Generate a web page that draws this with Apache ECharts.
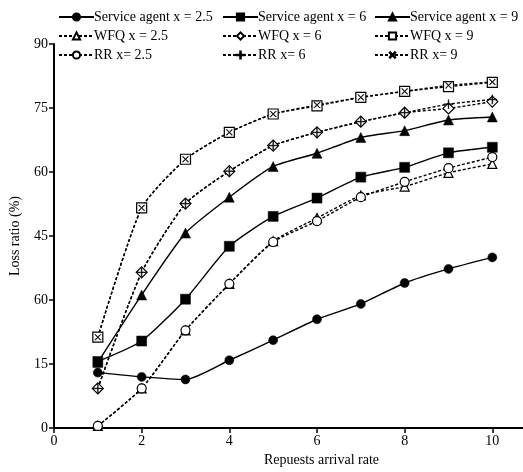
<!DOCTYPE html>
<html>
<head>
<meta charset="utf-8">
<script src="https://cdn.jsdelivr.net/npm/echarts@6/dist/echarts.min.js"></script>
<style>
html,body{margin:0;padding:0;background:#fff;}
#chart{width:523px;height:472px;}
</style>
</head>
<body>
<div id="chart"></div>
<script>
var xValues = [1, 2, 3, 4, 5, 6, 7, 8, 9, 10];
var xTickValues = [0, 2, 4, 6, 8, 10];
var yTickValues = [0, 15, 30, 45, 60, 75, 90];
var yTickLabels = ['0', '15', '60', '45', '60', '75', '90'];

var sa25 = [13.0, 12.0, 11.4, 15.9, 20.6, 25.5, 29.1, 34.0, 37.3, 40.0];
var sa6 = [15.6, 20.4, 30.2, 42.6, 49.6, 53.9, 58.8, 61.1, 64.5, 65.8];
var sa9 = [15.4, 31.2, 45.7, 54.1, 61.3, 64.4, 68.1, 69.7, 72.2, 72.9];
var wfq25 = [0.5, 9.3, 22.9, 33.8, 43.8, 49.2, 54.5, 56.6, 59.8, 61.9];
var wfq6 = [9.3, 36.5, 52.6, 60.2, 66.2, 69.3, 71.8, 73.9, 74.9, 76.5];
var wfq9 = [21.3, 51.6, 63.0, 69.3, 73.6, 75.5, 77.5, 78.9, 80.0, 81.0];
var rr25 = [0.5, 9.3, 22.9, 33.8, 43.6, 48.5, 54.1, 57.7, 60.9, 63.5];
var rr6 = [9.3, 36.5, 52.6, 60.2, 66.2, 69.3, 71.8, 73.9, 75.9, 77.0];
var rr9 = [21.3, 51.6, 63.0, 69.3, 73.6, 75.7, 77.5, 78.9, 80.3, 81.1];

var names = ['Service agent x = 2.5', 'Service agent x = 6', 'Service agent x = 9',
             'WFQ x = 2.5', 'WFQ x = 6', 'WFQ x = 9',
             'RR x= 2.5', 'RR x= 6', 'RR x= 9'];

var FONT = 'Liberation Serif';
var PLUS = 'path://M4.6,0H5.4V4.6H10V5.4H5.4V10H4.6V5.4H0V4.6H4.6Z';

function pairs(arr) { return xValues.map(function (x, i) { return [x, arr[i]]; }); }

function mk(name, data, symbol, size, filled, dashed, rotate) {
  return {
    name: name, type: 'line', data: pairs(data),
    symbol: symbol, symbolSize: size, symbolRotate: rotate || 0,
    smooth: 0.2, showSymbol: true,
    lineStyle: { color: '#000', width: 1.4, type: dashed ? [3, 2] : 'solid' },
    itemStyle: filled ? { color: '#000', borderColor: '#000', borderWidth: 0.5 }
                      : { color: '#fff', borderColor: '#000', borderWidth: 1.2 },
    emphasis: { disabled: true },
    animation: false
  };
}

var series = [
  mk(names[0], sa25, 'circle', 9, true, false),
  mk(names[1], sa6, 'rect', 10, true, false),
  mk(names[2], sa9, 'triangle', 10, true, false),
  mk(names[3], wfq25, 'triangle', 9, false, true),
  mk(names[4], wfq6, 'diamond', 11, false, true),
  mk(names[5], wfq9, 'rect', 10, false, true),
  mk(names[6], rr25, 'circle', 9, false, true),
  mk(names[7], rr6, PLUS, 9, true, true),
  mk(names[8], rr9, PLUS, 8, true, true, 45)
];

function legendCol(left, items) {
  return {
    orient: 'vertical', left: left, top: 4,
    itemWidth: 35, itemHeight: 9, itemGap: 3,
    data: items, selectedMode: false,
    textStyle: { fontFamily: FONT, fontSize: 14, color: '#000', padding: [0, 0, 0, -5], lineHeight: 16 }
  };
}

var chart = echarts.init(document.getElementById('chart'));
chart.setOption({
  backgroundColor: '#fff',
  animation: false,
  legend: [
    legendCol(53, [names[0], names[3], names[6]]),
    legendCol(217, [names[1], names[4], names[7]]),
    legendCol(369, [names[2], names[5], names[8]])
  ],
  grid: { left: 53, right: 0, top: 44, bottom: 43, containLabel: false },
  xAxis: {
    type: 'value', min: 0, max: 10.7, interval: 2,
    name: 'Repuests arrival rate', nameLocation: 'middle', nameGap: 19,
    nameTextStyle: { fontFamily: FONT, fontSize: 14, color: '#000', padding: [0, 0, 0, 66] },
    axisLine: { show: true, lineStyle: { color: '#000', width: 2 } },
    axisTick: { show: true, length: 5, customValues: xTickValues, lineStyle: { color: '#000', width: 1.5 } },
    axisLabel: { customValues: xTickValues, fontFamily: FONT, fontSize: 14, color: '#000', margin: 6 },
    splitLine: { show: false }
  },
  yAxis: {
    type: 'value', min: 0, max: 90, interval: 15,
    name: 'Loss ratio (%)', nameLocation: 'middle', nameGap: 32,
    nameTextStyle: { fontFamily: FONT, fontSize: 14, color: '#000' },
    axisLine: { show: true, lineStyle: { color: '#000', width: 2 } },
    axisTick: { show: true, length: 5, lineStyle: { color: '#000', width: 1.5 } },
    axisLabel: {
      fontFamily: FONT, fontSize: 14, color: '#000', margin: 6,
      formatter: function (v) { var i = yTickValues.indexOf(v); return i >= 0 ? yTickLabels[i] : ''; }
    },
    splitLine: { show: false }
  },
  series: series
});
</script>
</body>
</html>
